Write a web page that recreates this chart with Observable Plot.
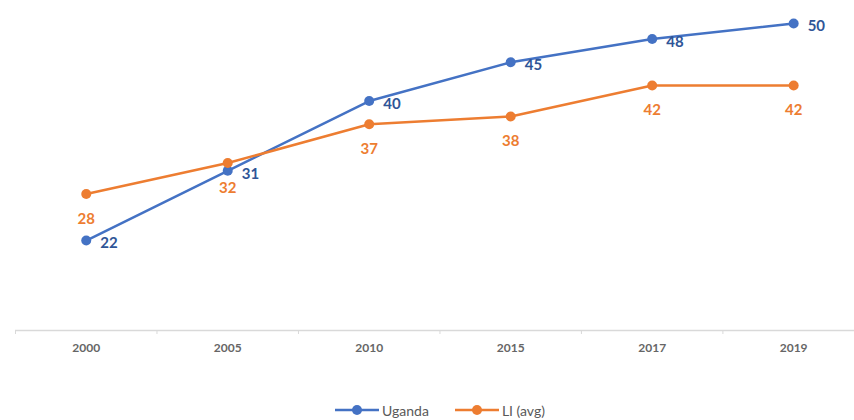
<!DOCTYPE html>
<html>
<head>
<meta charset="utf-8">
<script src="https://cdn.jsdelivr.net/npm/d3@7"></script>
<script src="https://cdn.jsdelivr.net/npm/@observablehq/plot@0.6"></script>
<style>
  html, body { margin: 0; padding: 0; background: #fff; }
  body { width: 854px; height: 420px; overflow: hidden; font-family: Lato, "Open Sans", sans-serif; }
  #legend { display: flex; justify-content: center; align-items: center; gap: 26px; height: 40px; margin-top: 10px; margin-left: 26px;
            font-family: Lato, sans-serif; font-size: 14px; color: #595959; }
  .item { display: flex; align-items: center; gap: 3px; }
</style>
</head>
<body>
<div id="chart"></div>
<div id="legend"></div>
<script>
const years = ["2000", "2005", "2010", "2015", "2017", "2019"];
const uganda = [22, 31, 40, 45, 48, 50];
const li = [28, 32, 37, 38, 42, 42];
const seriesNames = ["Uganda", "LI (avg)"];
const lineColors = ["#4472C4", "#ED7D31"];
const labelColors = ["#2F5597", "#ED7D31"];

const ug = years.map((y, i) => ({i, year: y, v: uganda[i]}));
const lv = years.map((y, i) => ({i, year: y, v: li[i]}));
const boundaries = d3.range(years.length).map(i => i - 0.5);

const yMin = 10.4;
const plot = Plot.plot({
  width: 854,
  height: 380,
  marginLeft: 15,
  marginRight: 0,
  marginTop: 7.5,
  marginBottom: 50,
  style: {fontFamily: "Lato, sans-serif", background: "#fff"},
  x: {domain: [-0.5, 5.43], axis: null},
  y: {domain: [yMin, 52], axis: null},
  marks: [
    Plot.ruleY([yMin], {stroke: "#d9d9d9", strokeWidth: 1.5}),
    Plot.axisX(boundaries, {tickSize: 4, stroke: "#d9d9d9", tickFormat: () => "", anchor: "bottom", label: null}),
    Plot.axisX(d3.range(years.length), {tickSize: 0, tickPadding: 13, tickFormat: i => years[i], anchor: "bottom",
      label: null, fontSize: 12, fontWeight: "bold", fill: "#666"}),
    Plot.line(ug, {x: "i", y: "v", stroke: lineColors[0], strokeWidth: 2.5}),
    Plot.dot(ug, {x: "i", y: "v", r: 5, fill: lineColors[0]}),
    Plot.line(lv, {x: "i", y: "v", stroke: lineColors[1], strokeWidth: 2.5}),
    Plot.dot(lv, {x: "i", y: "v", r: 5, fill: lineColors[1]}),
    Plot.text(ug, {x: "i", y: "v", text: d => String(d.v), dx: 14, dy: 3, textAnchor: "start",
      fontSize: 15, fontWeight: "bold", fill: labelColors[0]}),
    Plot.text(lv, {x: "i", y: "v", text: d => String(d.v), dy: 25,
      fontSize: 15, fontWeight: "bold", fill: labelColors[1]})
  ]
});
document.getElementById("chart").appendChild(plot);

const legend = document.getElementById("legend");
seriesNames.forEach((name, k) => {
  const item = document.createElement("div");
  item.className = "item";
  item.innerHTML = `<svg width="44" height="12"><line x1="0" y1="6" x2="44" y2="6" stroke="${lineColors[k]}" stroke-width="2.5"/><circle cx="22" cy="6" r="5" fill="${lineColors[k]}"/></svg><span>${name}</span>`;
  legend.appendChild(item);
});
</script>
</body>
</html>
